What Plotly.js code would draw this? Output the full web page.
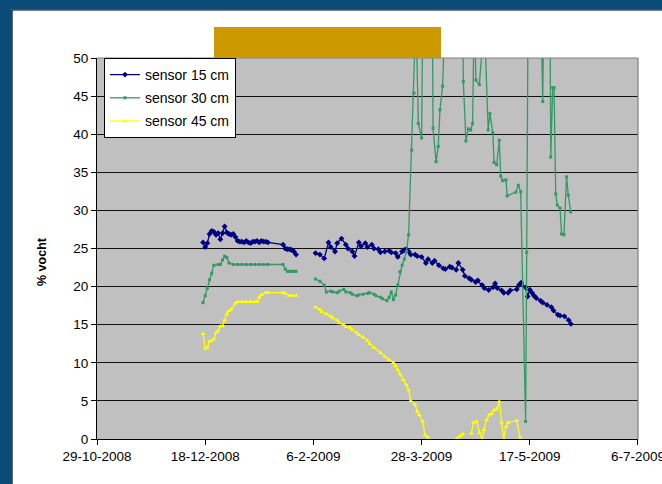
<!DOCTYPE html>
<html>
<head>
<meta charset="utf-8">
<script src="https://cdn.plot.ly/plotly-3.0.1.min.js"></script>
<style>html,body{margin:0;padding:0;background:#fff;}#chart{width:662px;height:484px;}</style>
</head>
<body>
<div id="chart"></div>
<script>
// ---- data ----
const tickDates = ['2008-10-29','2008-12-18','2009-02-06','2009-03-28','2009-05-17','2009-07-06'];
const tickLabels = ['29-10-2008','18-12-2008','6-2-2009','28-3-2009','17-5-2009','6-7-2009'];
const seriesNames = ['sensor 15 cm','sensor 30 cm','sensor 45 cm'];

const dates15 = ['2008-12-17','2008-12-18','2008-12-19','2008-12-20','2008-12-21','2008-12-22','2008-12-23','2008-12-24','2008-12-25','2008-12-26','2008-12-27','2008-12-28','2008-12-29','2008-12-30','2008-12-31',
'2009-01-01','2009-01-02','2009-01-03','2009-01-04','2009-01-05','2009-01-06','2009-01-07','2009-01-08','2009-01-09','2009-01-10','2009-01-11','2009-01-12','2009-01-13','2009-01-14','2009-01-15','2009-01-16',
'2009-01-23','2009-01-24','2009-01-25','2009-01-26','2009-01-27','2009-01-28','2009-01-29','2009-02-02',
'2009-02-07','2009-02-09','2009-02-11','2009-02-13','2009-02-14','2009-02-16','2009-02-17','2009-02-19','2009-02-21','2009-02-22','2009-02-24','2009-02-25','2009-02-27','2009-02-28',
'2009-03-02','2009-03-03','2009-03-05','2009-03-06','2009-03-08','2009-03-09','2009-03-11','2009-03-13','2009-03-14','2009-03-16','2009-03-17','2009-03-19','2009-03-20','2009-03-21','2009-03-22','2009-03-23','2009-03-25','2009-03-26','2009-03-28','2009-03-30','2009-03-31',
'2009-04-02','2009-04-03','2009-04-05','2009-04-07','2009-04-08','2009-04-10','2009-04-11','2009-04-13','2009-04-14','2009-04-16','2009-04-17','2009-04-19','2009-04-20','2009-04-22','2009-04-23','2009-04-25','2009-04-26','2009-04-28','2009-04-30',
'2009-05-01','2009-05-02','2009-05-04','2009-05-05','2009-05-07','2009-05-08','2009-05-11','2009-05-12','2009-05-13','2009-05-15','2009-05-16','2009-05-17','2009-05-18','2009-05-19','2009-05-20','2009-05-22','2009-05-23','2009-05-25','2009-05-27','2009-05-28','2009-05-30','2009-05-31',
'2009-06-02','2009-06-04','2009-06-05'];
const vals15 = [25.8,25.2,25.7,26.9,27.3,27.2,26.8,27.0,26.2,27.0,27.9,27.1,26.9,26.8,26.9,
26.5,26.0,25.9,25.9,25.8,26.0,25.8,25.7,25.9,25.9,26.0,25.8,26.0,25.9,25.9,25.8,
25.5,25.0,24.9,24.9,24.8,24.6,24.2,null,
24.4,24.2,23.7,25.8,25.2,24.6,25.7,26.3,25.5,25.0,24.6,24.0,25.8,25.3,
25.7,25.2,25.5,25.0,24.9,24.5,24.6,24.7,24.5,24.4,23.9,24.6,24.8,24.9,24.6,24.2,24.2,24.0,23.9,23.1,23.6,
23.1,23.4,22.8,22.4,22.3,22.6,22.5,22.2,23.1,22.2,21.4,21.1,20.9,20.6,20.8,20.2,19.8,19.55,19.9,
20.4,19.8,19.5,19.2,19.2,19.5,19.65,20.2,20.5,19.9,18.7,19.6,19.2,18.8,18.5,18.15,17.9,17.6,17.3,16.85,16.3,16.2,
16.1,15.6,15.1];

const dates30 = ['2008-12-17','2008-12-18','2008-12-19','2008-12-20','2008-12-21','2008-12-22','2008-12-24','2008-12-25','2008-12-26','2008-12-27','2008-12-28','2008-12-29','2008-12-31',
'2009-01-02','2009-01-04','2009-01-06','2009-01-08','2009-01-10','2009-01-12','2009-01-14','2009-01-16','2009-01-23','2009-01-24','2009-01-25','2009-01-26','2009-01-27','2009-01-28','2009-01-29','2009-02-02',
'2009-02-07','2009-02-09','2009-02-11','2009-02-12','2009-02-14','2009-02-15','2009-02-17','2009-02-18','2009-02-20','2009-02-21','2009-02-23','2009-02-24','2009-02-26','2009-02-27',
'2009-03-01','2009-03-03','2009-03-04','2009-03-06','2009-03-07','2009-03-09','2009-03-10','2009-03-12','2009-03-13','2009-03-14','2009-03-15','2009-03-16','2009-03-17','2009-03-18','2009-03-19','2009-03-20','2009-03-21','2009-03-22',
'2009-03-23 10:00','2009-03-24 12:00','2009-03-25 10:00','2009-03-26 12:00','2009-03-28 00:00','2009-03-28 14:00','2009-04-02 00:00','2009-04-02 07:00','2009-04-03 17:00','2009-04-04 17:00','2009-04-05 12:00','2009-04-06 17:00','2009-04-07 19:00',
'2009-04-16 02:00','2009-04-16 07:00','2009-04-17 12:00','2009-04-18 14:00','2009-04-19 17:00','2009-04-20 14:00','2009-04-21 10:00','2009-04-22 02:00','2009-04-23 17:00','2009-04-26 00:00','2009-04-27 19:00','2009-04-28 14:00','2009-04-29 22:00','2009-04-30 12:00',
'2009-05-01 17:00','2009-05-02 22:00','2009-05-03 14:00','2009-05-04 12:00','2009-05-06 00:00','2009-05-06 14:00','2009-05-10 14:00','2009-05-11 17:00','2009-05-12 19:00','2009-05-15 02:00','2009-05-15 14:00','2009-05-17 02:00',
'2009-05-21 22:00','2009-05-23 00:00','2009-05-23 14:00','2009-05-26 07:00','2009-05-26 17:00','2009-05-27 14:00','2009-05-28 05:00','2009-05-29 00:00','2009-05-29 17:00','2009-05-31 00:00','2009-05-31 17:00',
'2009-06-01 19:00','2009-06-03 00:00','2009-06-03 19:00','2009-06-04 22:00'];
const vals30 = [17.9,18.8,19.8,20.9,21.75,22.8,22.9,22.9,23.5,24.0,23.8,23.1,22.9,
22.9,22.9,22.9,22.9,22.9,22.9,22.9,22.9,22.9,22.3,22.0,22.0,22.0,22.0,22.0,null,
21.0,20.7,20.2,19.3,19.4,19.3,19.2,19.4,19.65,19.3,19.2,19.0,18.8,18.9,
19.0,19.1,19.2,19.0,18.8,18.6,18.4,18.15,18.6,19.3,18.3,18.9,20.2,21.95,22.8,23.6,24.6,26.8,
37.9,45.4,56,41.4,39.5,57,57,40.8,36.4,38.4,43.2,46.3,55,
55,46.9,39.1,40.7,40.55,41.4,58,47.1,46.5,55,40.55,42.7,40.2,36.3,
36.0,39.2,34.5,33.9,34.0,31.9,32.4,33.3,32.45,2.3,24.5,100,
60,44.3,60,60,37.0,46.1,46.1,32.15,30.7,30.3,26.9,
26.8,34.4,32.0,29.8];

const dates45 = ['2008-12-17','2008-12-18','2008-12-19','2008-12-20','2008-12-21','2008-12-22','2008-12-23','2008-12-24','2008-12-25','2008-12-26','2008-12-27','2008-12-28','2008-12-29','2008-12-30',
'2009-01-01','2009-01-02','2009-01-04','2009-01-06','2009-01-08','2009-01-10','2009-01-11','2009-01-12','2009-01-13','2009-01-15','2009-01-16','2009-01-23','2009-01-24','2009-01-26','2009-01-27','2009-01-29','2009-02-02',
'2009-02-07','2009-02-09','2009-02-10','2009-02-12','2009-02-14','2009-02-15','2009-02-17','2009-02-18','2009-02-20','2009-02-21','2009-02-23','2009-02-24','2009-02-26','2009-02-27',
'2009-03-01','2009-03-03','2009-03-04','2009-03-06','2009-03-09','2009-03-11','2009-03-13','2009-03-15','2009-03-16','2009-03-17','2009-03-18','2009-03-19 12:00','2009-03-21','2009-03-22','2009-03-23','2009-03-25','2009-03-26','2009-03-27','2009-03-28 12:00','2009-03-29 14:00','2009-03-31',
'2009-04-05','2009-04-13','2009-04-14','2009-04-15','2009-04-16','2009-04-18','2009-04-20','2009-04-21','2009-04-22 12:00','2009-04-23 17:00','2009-04-25 00:00','2009-04-25 19:00','2009-04-27 00:00','2009-04-28 07:00','2009-04-29 10:00','2009-04-30 12:00',
'2009-05-01 17:00','2009-05-02 22:00','2009-05-04','2009-05-05','2009-05-06','2009-05-07','2009-05-11','2009-05-12 12:00'];
const vals45 = [13.8,11.9,12.0,12.8,12.9,13.1,13.95,14.2,14.8,14.8,15.6,16.4,16.8,17.0,
17.8,18.0,18.0,18.0,18.0,18.0,18.0,18.6,18.9,19.2,19.2,19.2,19.1,18.8,18.8,18.8,null,
17.3,17.0,16.7,16.4,16.1,15.85,15.6,15.2,15.0,14.7,14.6,14.3,13.95,13.65,
13.35,12.9,12.5,12.0,11.3,10.8,10.4,10.0,9.6,9.05,8.5,7.75,7.1,6.4,5.0,4.5,3.6,3.15,2.3,0.5,0.2,
null,0.0,0.2,0.4,0.65,null,0.75,2.15,2.3,0.85,0.0,1.2,2.5,3.15,3.3,3.8,
3.9,4.9,2.15,0.0,1.6,2.15,2.4,0.2];

// ---- chart ----
const FONT = 'Liberation Sans, Arial, sans-serif';
const traces = [
  {x: dates15, y: vals15, name: seriesNames[0], legendgroup: 'a', mode: 'lines+markers', connectgaps: false,
   line: {color: '#000080', width: 1.3}, marker: {symbol: 'diamond', size: 4.5, color: '#000080'}},
  {x: dates30, y: vals30, name: seriesNames[1], legendgroup: 'b', mode: 'lines+markers', connectgaps: false,
   line: {color: '#339966', width: 1.3}, marker: {symbol: 'square', size: 3, color: '#339966'}},
  {x: dates45, y: vals45, name: seriesNames[2], legendgroup: 'c', mode: 'lines+markers', connectgaps: false,
   line: {color: '#FFFF00', width: 1.3}, marker: {symbol: 'triangle-up', size: 4.5, color: '#FFFF00'}}
];

const px = v => (v - 97) / 541;   // helper for decorative frame placement
const py = v => (439 - v) / 381;

const layout = {
  width: 662, height: 484,
  margin: {l: 97, r: 24, t: 58, b: 45, pad: 0},
  paper_bgcolor: '#ffffff',
  plot_bgcolor: '#C0C0C0',
  font: {family: FONT, size: 13.5, color: '#000'},
  showlegend: true,
  xaxis: {
    type: 'date', range: ['2008-10-29', '2009-07-06 00:30'],
    tickmode: 'array', tickvals: tickDates, ticktext: tickLabels,
    ticklabeloverflow: 'allow',
    showgrid: false, zeroline: false, showline: true, linecolor: '#000', linewidth: 1,
    ticks: 'outside', ticklen: 5, tickcolor: '#000', tickfont: {size: 13.5, family: FONT},
    fixedrange: true
  },
  yaxis: {
    range: [0, 50], tick0: 0, dtick: 5,
    showgrid: true, gridcolor: '#111', gridwidth: 1, zeroline: false,
    showline: true, linecolor: '#000', linewidth: 1,
    ticks: 'outside', ticklen: 5, tickcolor: '#000', tickfont: {size: 13.5, family: FONT},
    fixedrange: true
  },
  legend: {
    x: px(104), y: 1, xanchor: 'left', yanchor: 'top',
    bgcolor: '#ffffff', bordercolor: '#000', borderwidth: 1,
    font: {size: 14, family: FONT}, traceorder: 'grouped', tracegroupgap: 2
  },
  annotations: [
    {text: '<b>% vocht</b>', textangle: -90, xref: 'paper', yref: 'paper',
     x: px(42), y: py(262), xanchor: 'center', yanchor: 'middle', showarrow: false,
     font: {size: 12.5, family: FONT, color: '#000'}}
  ],
  shapes: [
    // outer frame
    {type: 'rect', xref: 'paper', yref: 'paper', x0: -0.3, x1: px(11.5), y0: -0.3, y1: 1.3,
     fillcolor: '#0A4C79', line: {width: 0}},
    {type: 'rect', xref: 'paper', yref: 'paper', x0: -0.3, x1: 1.2, y0: py(9.5), y1: 1.3,
     fillcolor: '#0A4C79', line: {width: 0}},
    {type: 'line', xref: 'paper', yref: 'paper', x0: px(12), x1: px(12), y0: -0.3, y1: py(10),
     line: {color: '#000', width: 1.2}},
    {type: 'line', xref: 'paper', yref: 'paper', x0: px(12), x1: 1.2, y0: py(10), y1: py(10),
     line: {color: '#000', width: 1.2}},
    // plot-area border (top, right)
    {type: 'line', xref: 'paper', yref: 'paper', x0: 0, x1: 1, y0: 1, y1: 1,
     line: {color: '#808080', width: 1.2}},
    {type: 'line', xref: 'paper', yref: 'paper', x0: 1, x1: 1, y0: 0, y1: 1,
     line: {color: '#808080', width: 1.2}},
    // title box
    {type: 'rect', xref: 'paper', yref: 'paper', x0: px(214), x1: px(441), y0: 1, y1: py(27),
     fillcolor: '#CC9900', line: {width: 0}}
  ]
};

Plotly.newPlot('chart', traces, layout, {displayModeBar: false, staticPlot: true});
</script>
</body>
</html>
